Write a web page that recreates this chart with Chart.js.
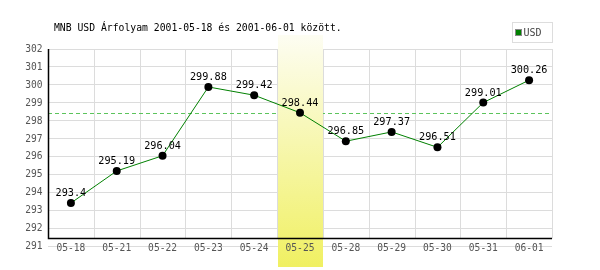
<!DOCTYPE html>
<html><head><meta charset="utf-8">
<script src="https://cdn.jsdelivr.net/npm/chart.js@4/dist/chart.umd.min.js"></script>
<style>html,body{margin:0;padding:0;background:#fff}#w{width:600px;height:270px}</style>
</head><body><div id="w"><canvas id="c" width="600" height="270"></canvas></div>
<script>
const titleText = "MNB USD Árfolyam 2001-05-18 és 2001-06-01 között.";
const categories = ["05-18","05-21","05-22","05-23","05-24","05-25","05-28","05-29","05-30","05-31","06-01"];
const usdValues = [293.4,295.19,296.04,299.88,299.42,298.44,296.85,297.37,296.51,299.01,300.26];
const valueLabels = ["293.4","295.19","296.04","299.88","299.42","298.44","296.85","297.37","296.51","299.01","300.26"];
const yTicks = [291,292,293,294,295,296,297,298,299,300,301,302];
const highlightIndex = 5;
const referenceValue = 298.44;
const seriesName = "USD";

const MONO = '"DejaVu Sans Mono", "Liberation Mono", monospace';

const deco = {
  id: 'deco',
  beforeDatasetsDraw(chart) {
    const ctx = chart.ctx, x = chart.scales.x, y = chart.scales.y, ca = chart.chartArea;
    const step = x.getPixelForValue(1) - x.getPixelForValue(0);
    const axisY = Math.round(y.getPixelForValue(291.45)) + 0.5;
    ctx.save();
    ctx.strokeStyle = '#dcdcdc'; ctx.lineWidth = 1;
    for (let i = 1; i <= categories.length; i++) {
      const px = Math.round(x.getPixelForValue(i) - step / 2) + 0.5;
      ctx.beginPath(); ctx.moveTo(px, ca.top); ctx.lineTo(px, axisY); ctx.stroke();
    }
    ctx.strokeStyle = '#5cc45c'; ctx.setLineDash([4, 3]);
    const ry = Math.round(y.getPixelForValue(referenceValue)) + 0.5;
    ctx.beginPath(); ctx.moveTo(ca.left, ry); ctx.lineTo(ca.right, ry); ctx.stroke();
    ctx.setLineDash([]);
    const cx = x.getPixelForValue(highlightIndex);
    const g = ctx.createLinearGradient(0, 35, 0, 267);
    g.addColorStop(0, '#fdfdf2');
    g.addColorStop(1, '#f0f062');
    ctx.fillStyle = g;
    ctx.fillRect(Math.round(cx - step / 2) + 1, 35, Math.round(step) - 1, 232);
    ctx.strokeStyle = '#000'; ctx.lineWidth = 1.5;
    ctx.beginPath();
    ctx.moveTo(Math.round(ca.left) + 0.5, ca.top);
    ctx.lineTo(Math.round(ca.left) + 0.5, axisY);
    ctx.lineTo(ca.right, axisY);
    ctx.stroke();
    ctx.fillStyle = '#555'; ctx.font = '9.6px ' + MONO;
    ctx.textAlign = 'right'; ctx.textBaseline = 'middle';
    yTicks.forEach(t => ctx.fillText(String(t), 42.5, y.getPixelForValue(t) + 0.5));
    ctx.textAlign = 'center';
    categories.forEach((c, i) => ctx.fillText(c, x.getPixelForValue(i), 248.5));
    ctx.restore();
  },
  afterDatasetsDraw(chart) {
    const ctx = chart.ctx, meta = chart.getDatasetMeta(0);
    ctx.save();
    ctx.fillStyle = '#000'; ctx.font = '10.2px ' + MONO;
    ctx.textAlign = 'center'; ctx.textBaseline = 'alphabetic';
    meta.data.forEach((pt, i) => ctx.fillText(valueLabels[i], pt.x, pt.y - 7));
    ctx.font = '9.75px ' + MONO; ctx.textAlign = 'left'; ctx.textBaseline = 'middle';
    ctx.fillText(titleText, 54, 28);
    ctx.strokeStyle = '#dddddd'; ctx.lineWidth = 1;
    ctx.strokeRect(512.5, 22.5, 40, 20);
    ctx.fillStyle = '#008000'; ctx.fillRect(516, 30, 6, 6);
    ctx.strokeStyle = '#888'; ctx.strokeRect(515.5, 29.5, 6, 6);
    ctx.fillStyle = '#444'; ctx.font = '10px ' + MONO;
    ctx.fillText(seriesName, 523.5, 33);
    ctx.restore();
  }
};

new Chart(document.getElementById('c'), {
  type: 'line',
  data: {
    labels: categories,
    datasets: [{
      label: seriesName,
      data: usdValues,
      borderColor: '#008000',
      borderWidth: 1,
      tension: 0,
      pointRadius: 4,
      pointHoverRadius: 4,
      pointBackgroundColor: '#000',
      pointBorderColor: '#000',
      pointBorderWidth: 0,
      fill: false
    }]
  },
  options: {
    responsive: false,
    animation: false,
    devicePixelRatio: 1,
    events: [],
    layout: { padding: { left: 48, top: 49, right: 48, bottom: 24 } },
    plugins: { legend: { display: false }, tooltip: { enabled: false }, title: { display: false } },
    scales: {
      x: { type: 'category', offset: true, display: false },
      y: {
        min: 291, max: 302,
        ticks: { display: false, stepSize: 1 },
        border: { display: false },
        grid: { color: '#dcdcdc', drawTicks: false, lineWidth: 1 }
      }
    }
  },
  plugins: [deco]
});
</script>
</body></html>
